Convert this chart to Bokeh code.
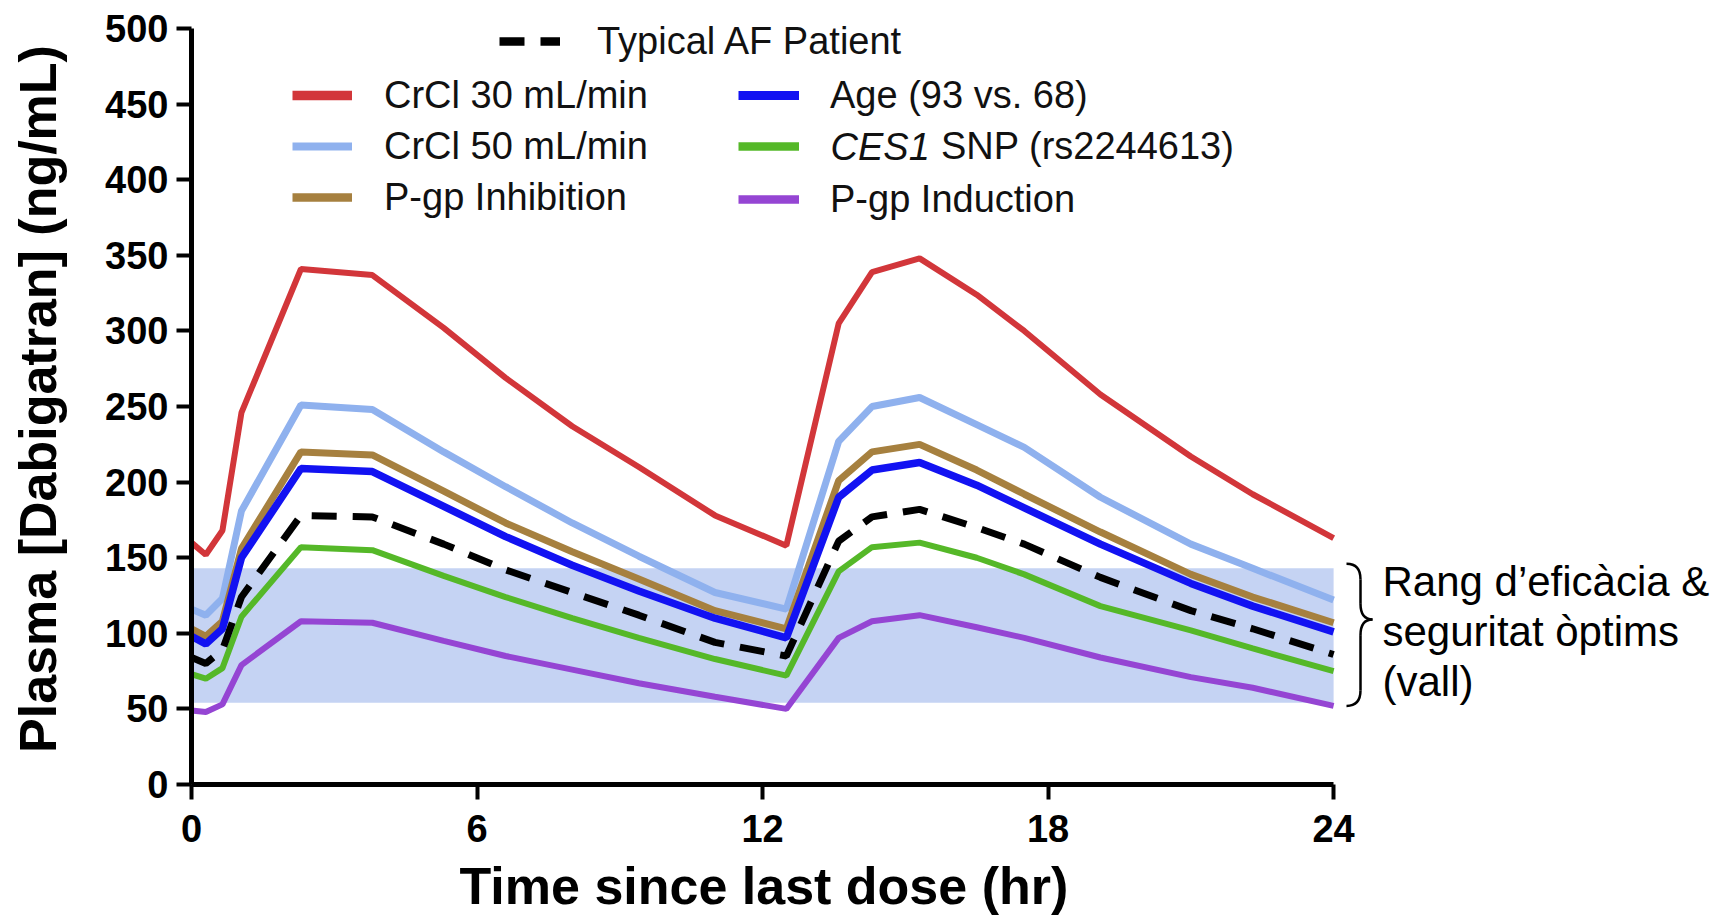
from bokeh.plotting import figure
from bokeh.models import Range1d, FixedTicker, Legend, LegendItem, Label, Title
from bokeh.embed import file_html
from bokeh.resources import INLINE

# Simulated dabigatran plasma concentrations over a 24 h window (two doses)
hours = [0, 0.3, 0.65, 1.05, 2.3, 3.8, 5.3, 6.6, 8.0, 9.4, 11.0, 12.5,
         13.6, 14.3, 15.3, 16.5, 17.5, 19.1, 21.0, 22.3, 24.0]

crcl_30 = [160, 152, 168, 246, 341, 337, 302, 269, 237, 210, 178, 158,
           305, 339, 348, 324, 300, 258, 217, 192, 163]
crcl_50 = [116, 112, 123, 181, 251, 248, 220, 197, 173, 151, 127, 116,
           227, 250, 256, 238, 223, 190, 159, 143, 122]
pgp_inhibition = [103, 98, 108, 156, 220, 218, 194, 173, 154, 136, 115, 103,
                  201, 220, 225, 208, 192, 167, 139, 124, 107]
age_93 = [98, 93, 103, 150, 209, 207, 184, 164, 145, 128, 110, 97,
          190, 208, 213, 198, 183, 159, 133, 118, 101]
typical_af = [84, 80, 89, 124, 178, 177, 159, 142, 127, 112, 94, 85,
              161, 177, 182, 170, 159, 137, 115, 103, 86]
ces1_snp = [73, 70, 77, 111, 157, 155, 138, 124, 110, 97, 83, 72,
            141, 157, 160, 150, 139, 118, 102, 90, 75]
pgp_induction = [49, 48, 53, 79, 108, 107, 95, 85, 76, 67, 58, 50,
                 97, 108, 112, 104, 97, 84, 71, 64, 52]

# Optimal efficacy/safety trough range
band_low = 54
band_high = 143

x_ticks = [0, 6, 12, 18, 24]
y_ticks = [0, 50, 100, 150, 200, 250, 300, 350, 400, 450, 500]

FONT = "Liberation Sans"
W, H = 1720, 924
FRAME_LEFT, FRAME_TOP, FRAME_BOTTOM = 191, 13, 784
X_END = 32.13
Y_END = 510


def sx_to_x(px):
    return (px - FRAME_LEFT) / (W - FRAME_LEFT) * X_END


def sy_to_y(py):
    return (FRAME_BOTTOM - py) / (FRAME_BOTTOM - FRAME_TOP) * Y_END


p = figure(width=W, height=H,
           x_range=Range1d(0, X_END), y_range=Range1d(0, Y_END),
           min_border_left=FRAME_LEFT, min_border_right=0,
           min_border_top=FRAME_TOP, min_border_bottom=H - FRAME_BOTTOM,
           output_backend="svg", toolbar_location=None)
p.outline_line_color = None
p.xgrid.visible = False
p.ygrid.visible = False
p.background_fill_color = "white"

# shaded target range
p.quad(left=x_ticks[0], right=x_ticks[-1], bottom=band_low, top=band_high,
       fill_color="#C5D3F3", line_color=None)

# name, values, colour, line width, legend key width, dash
series = [
    ("CrCl 30 mL/min", crcl_30, "#D2363A", 6, 9.5, None),
    ("CrCl 50 mL/min", crcl_50, "#8FB1EE", 7, 8, None),
    ("P-gp Inhibition", pgp_inhibition, "#A6803F", 7, 8.5, None),
    ("Age (93 vs. 68)", age_93, "#1212F2", 7.5, 9, None),
    ("CES1 SNP (rs2244613)", ces1_snp, "#55B828", 6, 8.5, None),
    ("P-gp Induction", pgp_induction, "#9545D3", 6, 8.5, None),
    ("Typical AF Patient", typical_af, "#000000", 7, 8.5, "25 16"),
]

nan = float("nan")
key_renderers = {}
for name, vals, color, width, key_width, dash in series:
    kw = dict(line_color=color)
    if dash:
        kw["line_dash"] = dash
    p.line(hours, vals, line_width=width, **kw)
    # a renderer with a single missing point: draws nothing, supplies the heavier legend key
    key_renderers[name] = p.line(x=[nan], y=[nan], line_width=key_width, **kw)

# axes
for ax in (p.xaxis[0], p.yaxis[0]):
    ax.axis_line_width = 5
    ax.axis_line_color = "black"
    ax.major_tick_line_width = 4
    ax.major_tick_line_color = "black"
    ax.major_tick_out = 15
    ax.major_tick_in = 0
    ax.minor_tick_line_color = None
    ax.major_label_text_font = FONT
    ax.major_label_text_font_style = "bold"
    ax.major_label_text_font_size = "38px"
    ax.major_label_text_color = "black"
    ax.axis_label_text_font = FONT
    ax.axis_label_text_font_style = "bold"
    ax.axis_label_text_color = "black"

p.xaxis.ticker = FixedTicker(ticks=x_ticks)
p.yaxis.ticker = FixedTicker(ticks=y_ticks)
p.xaxis.bounds = (x_ticks[0], x_ticks[-1])
p.yaxis.bounds = (y_ticks[0], y_ticks[-1])
p.yaxis.axis_label = "Plasma [Dabigatran] (ng/mL)"
p.yaxis.axis_label_text_font_size = "52px"
p.xaxis.major_label_standoff = 15
p.yaxis.major_label_standoff = 8
p.yaxis.axis_label_standoff = 35

# x-axis title, centred under the 0-24 h span rather than the whole frame
p.add_layout(Title(text="Time since last dose (hr)", align="left", offset=268,
                   vertical_align="bottom", standoff=20,
                   text_font=FONT, text_font_style="bold", text_font_size="52px",
                   text_color="black"), "below")

# legend entries, one box per entry: (name, key left px, key centre px, key width, gap to label, label)
ITEM_H = 50
legend_layout = [
    ("Typical AF Patient", 499, 41, 61, 37, "Typical AF Patient"),
    ("CrCl 30 mL/min", 292, 95, 60, 32, "CrCl 30 mL/min"),
    ("CrCl 50 mL/min", 292, 146, 60, 32, "CrCl 50 mL/min"),
    ("P-gp Inhibition", 292, 197, 60, 32, "P-gp Inhibition"),
    ("Age (93 vs. 68)", 738, 95, 61, 31, "Age (93 vs. 68)"),
    ("CES1 SNP (rs2244613)", 738, 146, 61, 142, "SNP (rs2244613)"),
    ("P-gp Induction", 738, 199, 61, 31, "P-gp Induction"),
]
for name, kx, ky, kw, gap, text in legend_layout:
    leg = Legend(items=[LegendItem(label=text, renderers=[key_renderers[name]])],
                 location=(kx - FRAME_LEFT, FRAME_BOTTOM - (ky + ITEM_H / 2)),
                 glyph_width=kw, glyph_height=ITEM_H, label_height=ITEM_H,
                 label_standoff=gap, padding=0, margin=0, spacing=0,
                 border_line_color=None, background_fill_alpha=0,
                 label_text_font=FONT, label_text_font_size="38px",
                 label_text_color="#111111")
    p.add_layout(leg)

# italic gene name in front of the SNP label
p.add_layout(Label(x=sx_to_x(830), y=sy_to_y(146), text="CES1",
                   text_font=FONT, text_font_style="italic", text_font_size="38px",
                   text_color="#111111", text_baseline="middle", text_align="left"))

# bracket and caption for the target range
bx_end, bx_mid, bx_tip = sx_to_x(1346), sx_to_x(1360), sx_to_x(1372)
top_y, bot_y = band_high + 3, band_low - 2
tip_y = sy_to_y(619)
r = (top_y - bot_y) * 0.11
brace = dict(line_color="black", line_width=2.5)
p.quadratic(x0=[bx_end, bx_mid, bx_tip, bx_mid], y0=[top_y, tip_y + r, tip_y, bot_y + r],
            x1=[bx_mid, bx_tip, bx_mid, bx_end], y1=[top_y - r, tip_y, tip_y - r, bot_y],
            cx=[bx_mid, bx_mid, bx_mid, bx_mid], cy=[top_y, tip_y, tip_y, bot_y], **brace)
p.segment(x0=[bx_mid, bx_mid], y0=[top_y - r, tip_y - r],
          x1=[bx_mid, bx_mid], y1=[tip_y + r, bot_y + r], **brace)

caption = ["Rang d\u2019efic\u00e0cia &", "seguritat \u00f2ptims", "(vall)"]
for line, base_px in zip(caption, [581, 631, 681]):
    p.add_layout(Label(x=sx_to_x(1382), y=sy_to_y(base_px), text=line,
                       text_font=FONT, text_font_size="42px", text_color="black",
                       text_baseline="alphabetic", text_align="left"))

open("out.html", "w").write(file_html(p, INLINE))
